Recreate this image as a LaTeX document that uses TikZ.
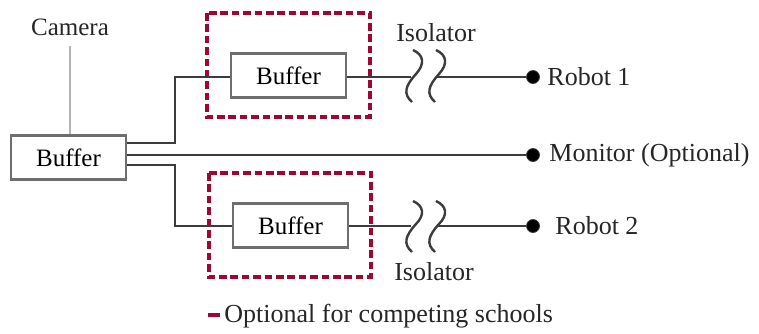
\documentclass[tikz,border=0pt]{standalone}
\usepackage{fontspec}
\setmainfont{Liberation Serif}
\definecolor{wire}{HTML}{3C3C3C}
\definecolor{boxgray}{HTML}{6E6E6E}
\definecolor{optred}{HTML}{9E0830}
\definecolor{camgray}{HTML}{B4B4B4}
\begin{document}
\begin{tikzpicture}[x=0.5pt,y=-0.5pt,
  bufbox/.style={draw=boxgray,line width=1.3pt,fill=white,minimum width=57.5pt,minimum height=22pt,inner sep=0pt,font=\fontsize{12.5}{14}\selectfont},
  optbox/.style={draw=optred,line width=2.2pt,dash pattern=on 3.8pt off 1.9pt},
  wireline/.style={draw=wire,line width=1.3pt},
  dotnode/.style={circle,fill=black,draw=wire,inner sep=0pt,minimum size=6.5pt},
  lbl/.style={font=\fontsize{13}{15}\selectfont,text=black!85,inner sep=0pt},
  squig/.style={draw=wire,line width=1.2pt}
]
\useasboundingbox (0,0) rectangle (759,333);
% dashed optional boxes
\draw[optbox] (207,13) rectangle (370,117);
\draw[optbox] (209,173) rectangle (371,277);
% nodes
\node[bufbox] (main) at (68.5,157.5) {Buffer};
\node[bufbox] (b1) at (288.5,75.5) {Buffer};
\node[bufbox] (b2) at (290.5,225.5) {Buffer};
\node[lbl,font=\fontsize{12.5}{14}\selectfont] (cam) at (70,27) {Camera};
\node[dotnode] (d1) at (533,77) {};
\node[dotnode] (dm) at (533,155) {};
\node[dotnode] (d2) at (533,226) {};
\node[lbl,anchor=west] (r1) at (547,77) {Robot 1};
\node[lbl,anchor=west] (mon) at (549,155) {Monitor (Optional)};
\node[lbl,anchor=west] (r2) at (555,226) {Robot 2};
\node[lbl] (iso1) at (436,33) {Isolator};
\node[lbl] (iso2) at (434,272) {Isolator};
% camera line
\draw[draw=camgray,line width=1pt] (cam.south |- 0,46) -- (main.north -| cam.south);
% wires from main buffer
\draw[wireline] (main.east |- 0,143) -- (175,143) |- (b1.west |- 0,77);
\draw[wireline] (main.east |- 0,155) -- (dm.west);
\draw[wireline] (main.east |- 0,165) -- (175,165) |- (b2.west |- 0,226);
% isolator 1
\coordinate (i1a) at (411,77);
\coordinate (i1b) at (437,77);
\draw[wireline] (b1.east |- 0,77) -- (i1a);
\draw[wireline] (i1b) -- (d1.west);
\draw[squig] (413,50) .. controls (424,55) and (425,64) .. (416,74) .. controls (405,86) and (403,94) .. (412,102);
\draw[squig] (436,50) .. controls (447,55) and (448,64) .. (439,74) .. controls (428,86) and (426,94) .. (435,102);
% isolator 2
\coordinate (i2a) at (411,226);
\coordinate (i2b) at (437,226);
\draw[wireline] (b2.east |- 0,226) -- (i2a);
\draw[wireline] (i2b) -- (d2.west);
\draw[squig] (413,201) .. controls (424,206) and (425,215) .. (416,224) .. controls (405,236) and (403,244) .. (412,252);
\draw[squig] (436,201) .. controls (447,206) and (448,215) .. (439,224) .. controls (428,236) and (426,244) .. (435,252);
% legend
\draw[draw=optred,line width=2.2pt] (208,315) -- (220,315);
\node[lbl,anchor=west] (leg) at (224,316) {Optional for competing schools};
\end{tikzpicture}
\end{document}
